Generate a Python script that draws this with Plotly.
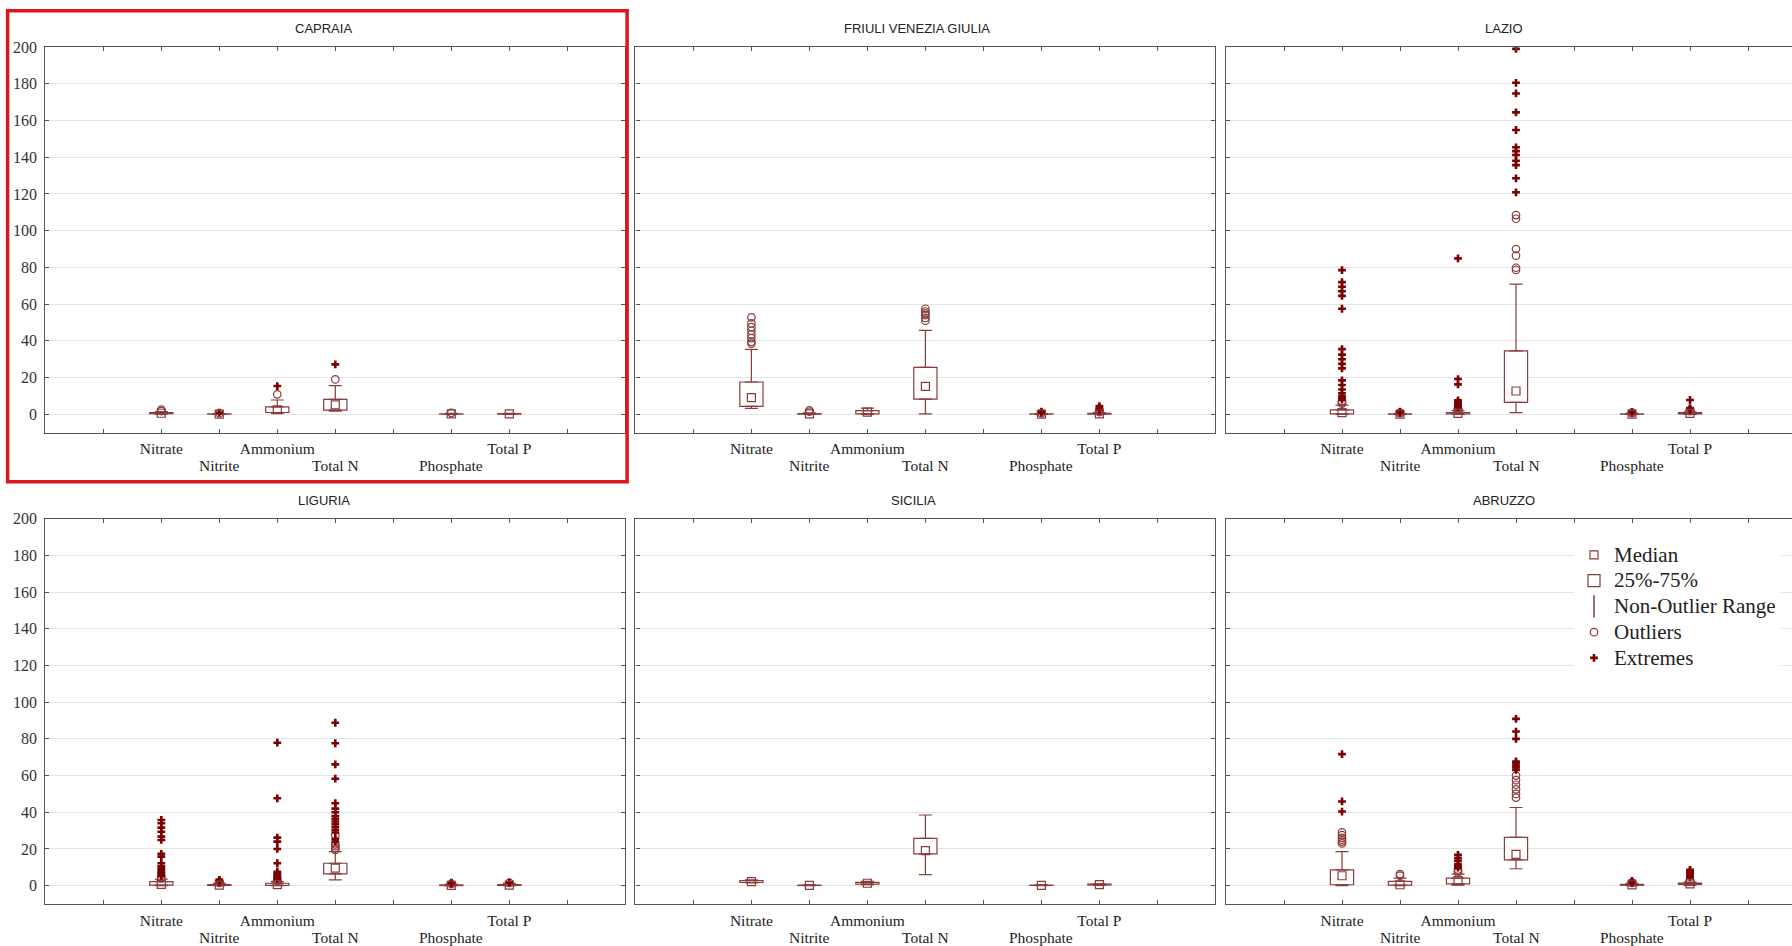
import plotly.graph_objects as go

# ---------------- data ----------------
CATEGORIES = ["Nitrate", "Nitrite", "Ammonium", "Total N", "Phosphate", "Total P"]
# axis slots (None = empty slot on the category axis)
AXIS_SLOTS = [None, "Nitrate", "Nitrite", "Ammonium", "Total N", None, "Phosphate", "Total P", None]
REGIONS = ["CAPRAIA", "FRIULI VENEZIA GIULIA", "LAZIO", "LIGURIA", "SICILIA", "ABRUZZO"]

CAPRAIA_LOWER = [0.1, 0.0, 0.5, 1.8, 0.0, 0.0]
CAPRAIA_Q1 = [0.4, 0.05, 1.0, 2.3, 0.1, 0.1]
CAPRAIA_MEDIAN = [0.6, 0.1, 2.5, 5.1, 0.2, 0.2]
CAPRAIA_Q3 = [1.0, 0.2, 4.1, 8.1, 0.3, 0.4]
CAPRAIA_UPPER = [1.5, 0.4, 7.8, 15.6, 0.5, 0.6]
CAPRAIA_OUTLIERS = [[1.8, 2.6], [0.6], [10.9], [19.0], [0.8], []]
CAPRAIA_EXTREMES = [[], [0.9], [15.4], [27.2], [], []]

FVG_LOWER = [3.2, 0.0, 0.0, 0.2, 0.0, 0.0]
FVG_Q1 = [4.3, 0.1, 0.2, 8.3, 0.05, 0.1]
FVG_MEDIAN = [9.1, 0.2, 1.2, 15.2, 0.1, 0.3]
FVG_Q3 = [17.6, 0.4, 2.0, 25.6, 0.2, 0.5]
FVG_UPPER = [35.4, 0.8, 3.4, 45.7, 0.4, 0.9]
FVG_OUTLIERS = [[38.5, 39.5, 41.5, 43.5, 45.5, 47.5, 49.5, 52.8], [1.4, 2.2], [],
                [51.0, 52.5, 54.0, 55.0, 56.0, 57.5], [0.7], [1.2, 1.6]]
FVG_EXTREMES = [[], [], [], [], [1.0, 1.4], [2.2, 2.8, 3.5, 4.5]]

LAZIO_LOWER = [0.0, 0.0, 0.0, 0.9, 0.0, 0.0]
LAZIO_Q1 = [0.3, 0.05, 0.2, 6.5, 0.05, 0.3]
LAZIO_MEDIAN = [0.9, 0.1, 0.5, 12.7, 0.1, 0.5]
LAZIO_Q3 = [2.4, 0.2, 1.0, 34.6, 0.3, 0.9]
LAZIO_UPPER = [5.0, 0.4, 2.0, 70.9, 0.5, 1.4]
LAZIO_OUTLIERS = [[5.8, 6.5, 7.2], [0.6, 0.8], [2.4, 2.9, 3.3],
                  [78.6, 79.8, 86.4, 90.0, 106.5, 108.5], [0.7, 0.9], [1.7, 2.0]]
LAZIO_EXTREMES = [[8.0, 9.0, 10.0, 11.5, 13.5, 16.0, 18.5, 25.0, 27.5, 30.0, 32.5, 35.5,
                   57.5, 64.5, 67.0, 69.5, 72.0, 78.5],
                  [1.1, 1.4],
                  [3.8, 4.5, 5.2, 6.0, 6.8, 7.6, 16.3, 19.2, 84.9],
                  [120.9, 128.5, 135.7, 138.1, 141.2, 143.3, 145.4, 154.8, 164.4, 174.7, 180.5, 199.0],
                  [1.2],
                  [2.6, 3.0, 3.4, 7.8]]

LIGURIA_LOWER = [0.0, 0.0, 0.0, 3.1, 0.0, 0.0]
LIGURIA_Q1 = [0.3, 0.1, 0.2, 6.4, 0.05, 0.1]
LIGURIA_MEDIAN = [0.7, 0.3, 0.6, 9.5, 0.2, 0.3]
LIGURIA_Q3 = [2.2, 0.6, 1.3, 12.2, 0.4, 0.6]
LIGURIA_UPPER = [3.6, 1.2, 2.2, 18.5, 0.8, 1.2]
LIGURIA_OUTLIERS = [[4.0, 4.5], [1.5, 1.9], [2.6, 3.1], [19.5, 20.5, 21.5, 22.5, 27.5], [1.0], [1.5]]
LIGURIA_EXTREMES = [[5.2, 6.0, 6.8, 7.6, 8.5, 9.5, 10.5, 12.2, 15.8, 17.3, 24.9, 26.7, 29.4, 31.6, 34.0, 35.8],
                    [2.3, 2.8, 3.2],
                    [3.6, 4.3, 5.0, 5.8, 6.6, 7.6, 12.2, 20.0, 24.0, 26.2, 47.6, 77.9],
                    [24.0, 25.5, 29.0, 30.5, 32.0, 33.5, 35.0, 36.5, 38.0, 40.0, 42.0, 44.9,
                     58.3, 66.1, 77.6, 88.8],
                    [1.3, 1.6],
                    [1.8]]

SICILIA_LOWER = [1.5, 0.0, 0.5, 6.0, 0.0, 0.2]
SICILIA_Q1 = [1.8, 0.1, 0.8, 17.3, 0.1, 0.4]
SICILIA_MEDIAN = [2.2, 0.2, 1.3, 19.1, 0.2, 0.6]
SICILIA_Q3 = [2.8, 0.3, 1.8, 25.8, 0.3, 0.8]
SICILIA_UPPER = [3.2, 0.5, 2.3, 38.5, 0.5, 1.0]
SICILIA_OUTLIERS = [[], [], [], [], [], []]
SICILIA_EXTREMES = [[], [], [], [], [], []]

ABRUZZO_LOWER = [0.0, 0.0, 0.3, 9.2, 0.0, 0.2]
ABRUZZO_Q1 = [0.5, 0.3, 1.0, 14.1, 0.2, 0.7]
ABRUZZO_MEDIAN = [5.4, 0.5, 2.7, 17.0, 0.4, 1.0]
ABRUZZO_Q3 = [8.6, 2.3, 4.1, 26.3, 0.7, 1.4]
ABRUZZO_UPPER = [18.6, 4.1, 6.3, 42.6, 1.2, 2.0]
ABRUZZO_OUTLIERS = [[23.0, 24.0, 25.0, 26.0, 27.5, 29.0], [5.5, 6.3], [7.2, 8.0, 8.8],
                    [48.0, 50.0, 52.5, 55.0, 57.5, 60.0], [1.5], [2.4, 3.0]]
ABRUZZO_EXTREMES = [[40.4, 45.9, 71.7], [], [9.8, 10.8, 11.6, 13.5, 15.0, 16.8],
                    [63.1, 64.4, 65.5, 66.8, 67.7, 80.0, 84.0, 90.9], [1.8, 2.2, 2.6],
                    [4.5, 5.5, 6.5, 7.2, 7.8, 8.6]]

Y_TICKS = [0, 20, 40, 60, 80, 100, 120, 140, 160, 180, 200]

STATS = [
    (CAPRAIA_LOWER, CAPRAIA_Q1, CAPRAIA_MEDIAN, CAPRAIA_Q3, CAPRAIA_UPPER, CAPRAIA_OUTLIERS, CAPRAIA_EXTREMES),
    (FVG_LOWER, FVG_Q1, FVG_MEDIAN, FVG_Q3, FVG_UPPER, FVG_OUTLIERS, FVG_EXTREMES),
    (LAZIO_LOWER, LAZIO_Q1, LAZIO_MEDIAN, LAZIO_Q3, LAZIO_UPPER, LAZIO_OUTLIERS, LAZIO_EXTREMES),
    (LIGURIA_LOWER, LIGURIA_Q1, LIGURIA_MEDIAN, LIGURIA_Q3, LIGURIA_UPPER, LIGURIA_OUTLIERS, LIGURIA_EXTREMES),
    (SICILIA_LOWER, SICILIA_Q1, SICILIA_MEDIAN, SICILIA_Q3, SICILIA_UPPER, SICILIA_OUTLIERS, SICILIA_EXTREMES),
    (ABRUZZO_LOWER, ABRUZZO_Q1, ABRUZZO_MEDIAN, ABRUZZO_Q3, ABRUZZO_UPPER, ABRUZZO_OUTLIERS, ABRUZZO_EXTREMES),
]

# ---------------- styling / layout ----------------
W, H = 1792, 946
BOX_COLOR = "#8A3B3B"
EXT_COLOR = "#7B0000"
AXIS_COLOR = "#555555"
GRID_COLOR = "#E4E4E4"
SERIF = "Liberation Serif, Times New Roman, serif"
SANS = "Liberation Sans, Arial, sans-serif"
TICK_FONT = dict(family=SERIF, size=15.5, color="#222222")

COL_PX = [(45.3, 625.3), (635.4, 1215.4), (1226.0, 1806.0)]
ROW_PX = [(47.0, 432.7), (518.7, 904.0)]
TITLE_Y_PX = [28.5, 500.0]
SECOND_ROW_OFFSET_PX = 33.0  # centre of the staggered 2nd label row below the axis
UNITS = 10.0  # x-axis span (slots 0..10)

pos_of = {c: i for i, c in enumerate(AXIS_SLOTS, start=1) if c}
x_pos = [pos_of[c] for c in CATEGORIES]

tickvals = list(range(1, len(AXIS_SLOTS) + 1))
first_row = [c if (c is not None and i % 2 == 1) else "" for i, c in enumerate(AXIS_SLOTS)]
second_row = [(i + 1, c) for i, c in enumerate(AXIS_SLOTS) if c is not None and i % 2 == 0]

fig = go.Figure()
layout = dict(
    template="none",
    width=W, height=H, margin=dict(l=0, r=0, t=0, b=0, autoexpand=False),
    paper_bgcolor="white", plot_bgcolor="white",
    barmode="overlay", showlegend=True,
    annotations=[], shapes=[],
)


def lg(name):
    return '<span style="font-size:21px">' + name + "</span>"


for k, region in enumerate(REGIONS):
    r, c = divmod(k, 3)
    sfx = "" if k == 0 else str(k + 1)
    xa, ya = "x" + sfx, "y" + sfx
    lower, q1, med, q3, upper, outl, ext = STATS[k]
    first = k == 0

    x0px, x1px = COL_PX[c]
    xr1 = UNITS
    x1_dom = x1px / W
    if x1px > W:
        xr1 = UNITS * (W - x0px) / (x1px - x0px)
        x1_dom = 1.0
    y0px, y1px = ROW_PX[r]

    layout["xaxis" + sfx] = dict(
        domain=[x0px / W, x1_dom], anchor=ya, range=[0, xr1],
        tickmode="array", tickvals=tickvals, ticktext=first_row, tickangle=0,
        ticks="inside", ticklen=4, tickcolor=AXIS_COLOR,
        showline=True, linecolor=AXIS_COLOR, linewidth=1.2, mirror="ticks",
        showgrid=False, zeroline=False, fixedrange=True, automargin=False,
        tickfont=TICK_FONT, ticklabelstandoff=2,
    )
    layout["yaxis" + sfx] = dict(
        domain=[1 - y1px / H, 1 - y0px / H], anchor=xa, range=[-10, 200],
        tickmode="array", tickvals=Y_TICKS,
        ticks="inside", ticklen=4, tickcolor=AXIS_COLOR,
        showline=True, linecolor=AXIS_COLOR, linewidth=1.2,
        mirror="ticks" if c < 2 else False,
        showgrid=True, gridcolor=GRID_COLOR, gridwidth=1, zeroline=False,
        showticklabels=(c == 0), fixedrange=True, automargin=False,
        tickfont=dict(family=SERIF, size=16, color="#333333"),
        ticklabelstandoff=4,
    )

    # staggered second row of category labels
    for p, name in second_row:
        layout["annotations"].append(dict(
            text=name, xref=xa, yref="paper", x=p,
            y=1 - (y1px + SECOND_ROW_OFFSET_PX) / H,
            xanchor="center", yanchor="middle", showarrow=False, font=TICK_FONT,
        ))

    # 25%-75% box
    fig.add_trace(go.Bar(
        x=x_pos, y=[b - a for a, b in zip(q1, q3)], base=q1, width=0.4,
        marker=dict(color="white", line=dict(color=BOX_COLOR, width=1.2)),
        name=lg("25%-75%"), legendgroup="box", showlegend=first, legendrank=2,
        xaxis=xa, yaxis=ya, hoverinfo="skip",
    ))
    # whiskers (non-outlier range)
    fig.add_trace(go.Scatter(
        x=x_pos, y=q3, mode="markers", marker=dict(size=2, opacity=0),
        error_y=dict(type="data", symmetric=False,
                     array=[u - b for b, u in zip(q3, upper)], arrayminus=[0] * len(q3),
                     color=BOX_COLOR, thickness=1.2, width=6.5),
        showlegend=False, xaxis=xa, yaxis=ya, hoverinfo="skip",
    ))
    fig.add_trace(go.Scatter(
        x=x_pos, y=q1, mode="markers", marker=dict(size=2, opacity=0),
        error_y=dict(type="data", symmetric=False,
                     array=[0] * len(q1), arrayminus=[a - lo for lo, a in zip(lower, q1)],
                     color=BOX_COLOR, thickness=1.2, width=6.5),
        showlegend=False, xaxis=xa, yaxis=ya, hoverinfo="skip",
    ))
    # outliers
    ox, oy = [], []
    for p, vals in zip(x_pos, outl):
        ox += [p] * len(vals)
        oy += vals
    fig.add_trace(go.Scatter(
        x=ox if ox else [None], y=oy if oy else [None], mode="markers",
        marker=dict(symbol="circle-open", size=7.5, color=BOX_COLOR, line=dict(width=1.2)),
        name=lg("Outliers"), legendgroup="out", showlegend=first, legendrank=4,
        xaxis=xa, yaxis=ya,
    ))
    # extremes
    ex, ey = [], []
    for p, vals in zip(x_pos, ext):
        ex += [p] * len(vals)
        ey += vals
    fig.add_trace(go.Scatter(
        x=ex if ex else [None], y=ey if ey else [None], mode="markers",
        marker=dict(symbol="cross", size=6.5, color=EXT_COLOR, line=dict(width=0)),
        name=lg("Extremes"), legendgroup="ext", showlegend=first, legendrank=5,
        xaxis=xa, yaxis=ya,
    ))
    # median
    fig.add_trace(go.Scatter(
        x=x_pos, y=med, mode="markers",
        marker=dict(symbol="square-open", size=8, color=BOX_COLOR, line=dict(width=1.2)),
        name=lg("Median"), legendgroup="med", showlegend=first, legendrank=1,
        xaxis=xa, yaxis=ya,
    ))

    layout["annotations"].append(dict(
        text=region, xref=xa, yref="paper", x=4.8 if k not in (1,) else 4.85,
        y=1 - TITLE_Y_PX[r] / H,
        xanchor="center", yanchor="middle", showarrow=False,
        font=dict(family=SANS, size=13, color="#222222"),
    ))

# legend entry for the whisker symbol
fig.add_trace(go.Scatter(
    x=[None], y=[None], mode="markers",
    marker=dict(symbol="line-ns-open", size=16, color=BOX_COLOR, line=dict(width=1.5, color=BOX_COLOR)),
    name=lg("Non-Outlier Range"), legendrank=3, xaxis="x6", yaxis="y6",
))

layout["legend"] = dict(
    x=1574 / W, y=1 - 537 / H, xanchor="left", yanchor="top",
    bgcolor="white", borderwidth=0,
    font=dict(family=SERIF, size=17.5, color="#222222"),
    tracegroupgap=0, itemsizing="trace",
)

# red highlight frame around first panel
layout["shapes"].append(dict(
    type="rect", xref="paper", yref="paper",
    x0=7.6 / W, x1=627.1 / W, y0=1 - 481.8 / H, y1=1 - 10.8 / H,
    line=dict(color="#E0141C", width=3.5), fillcolor="rgba(0,0,0,0)", layer="above",
))

fig.update_layout(**layout)
fig.write_html("out.html")
